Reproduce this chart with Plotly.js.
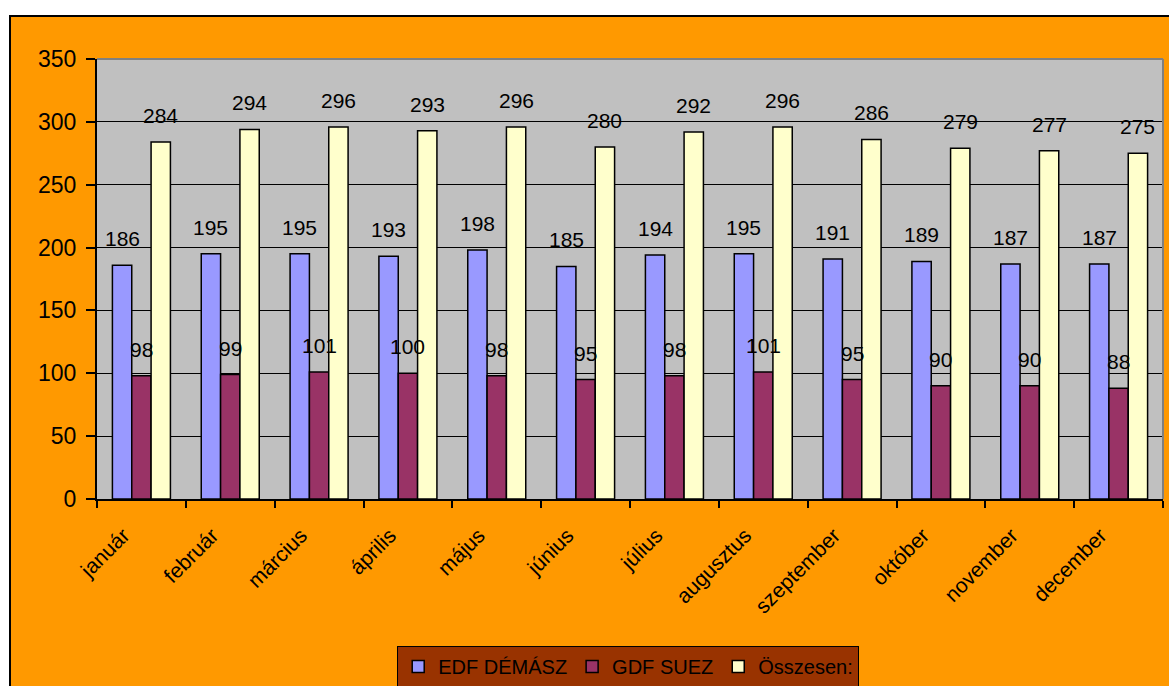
<!DOCTYPE html>
<html>
<head>
<meta charset="utf-8">
<script src="https://cdn.plot.ly/plotly-3.0.1.min.js"></script>
<style>
  html, body { margin:0; padding:0; background:#ffffff; overflow:hidden; width:1169px; height:686px; }
  #chart { position:absolute; left:9px; top:15px; border-left:2px solid #000; border-top:2px solid #000; }
</style>
</head>
<body>
<div id="chart"></div>
<script>
var months = ['január','február','március','április','május','június','július','augusztus','szeptember','október','november','december'];
var edfDemasz = [186,195,195,193,198,185,194,195,191,189,187,187];
var gdfSuez   = [98,99,101,100,98,95,98,101,95,90,90,88];
var osszesen  = [284,294,296,293,296,280,292,296,286,279,277,275];
var seriesNames = ['EDF DÉMÁSZ','GDF SUEZ','Összesen:'];
var seriesColors = ['#9999FF','#993366','#FFFFCC'];
var seriesValues = [edfDemasz, gdfSuez, osszesen];

var FONT = 'Liberation Sans, Arial, sans-serif';
var bargap = 0.347;
var barW = (1 - bargap) / 3;

var traces = seriesValues.map(function(vals, s){
  return {
    type:'bar', name: seriesNames[s], x: months, y: vals,
    marker:{color: seriesColors[s], line:{color:'#000000', width:1.5}},
    hoverinfo:'x+y+name'
  };
});

var annotations = [];
seriesValues.forEach(function(vals, s){
  vals.forEach(function(v, i){
    annotations.push({
      xref:'x', yref:'y', x: i + (s-1)*barW, y: v,
      text: String(v), showarrow:false, yanchor:'bottom', xanchor:'center',
      yshift: 13, font:{family:FONT, size:21, color:'#000000'}
    });
  });
});

var layout = {
  width:1158, height:669,
  margin:{l:86, r:6, t:42, b:187, pad:0},
  paper_bgcolor:'#FF9900',
  plot_bgcolor:'#C0C0C0',
  font:{family:FONT, color:'#000000'},
  barmode:'group', bargap: bargap, bargroupgap:0,
  showlegend:true,
  legend:{
    orientation:'h', xref:'container', yref:'container',
    x:0.533, xanchor:'center', y:(669-629)/669, yanchor:'top',
    bgcolor:'#993300', bordercolor:'#000000', borderwidth:1,
    font:{family:FONT, size:20, color:'#000000'}, traceorder:'normal'
  },
  xaxis:{
    type:'category', showline:true, linecolor:'#000000', linewidth:2,
    ticks:'outside', tickson:'boundaries', ticklen:7, tickwidth:2, tickcolor:'#000000',
    tickangle:-45, tickfont:{family:FONT, size:21, color:'#000000'},
    ticklabelshift:-18, ticklabelstandoff:14,
    showgrid:false, zeroline:false, fixedrange:true
  },
  yaxis:{
    range:[0,350], dtick:50, tick0:0, showline:true, linecolor:'#000000', linewidth:2,
    ticks:'outside', ticklen:9, tickwidth:2, tickcolor:'#000000',
    tickfont:{family:FONT, size:23, color:'#000000'}, ticklabelstandoff:5,
    showgrid:true, gridcolor:'#000000', gridwidth:1, zeroline:false, fixedrange:true
  },
  shapes:[
    {type:'line', xref:'paper', yref:'paper', x0:0, x1:1, y0:1, y1:1, line:{color:'#808080', width:2}},
    {type:'line', xref:'paper', yref:'paper', x0:1, x1:1, y0:0, y1:1, line:{color:'#808080', width:2}}
  ],
  annotations: annotations
};

Plotly.newPlot('chart', traces, layout, {displayModeBar:false, staticPlot:true});
</script>
</body>
</html>
